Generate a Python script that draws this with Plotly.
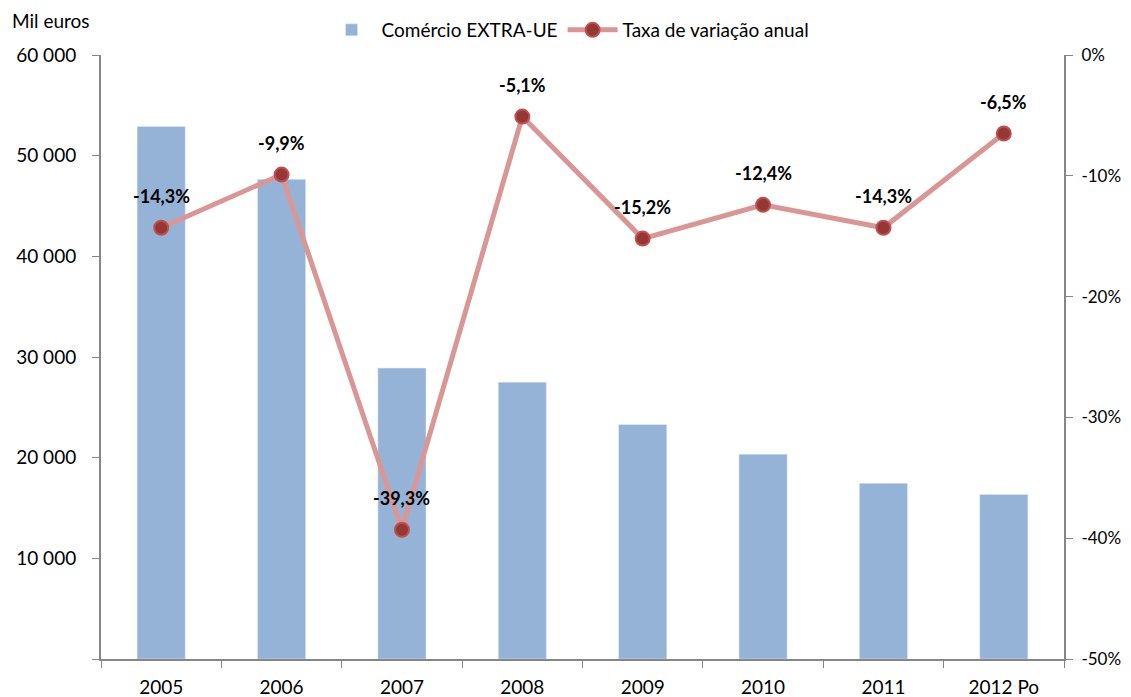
import plotly.graph_objects as go

years = ["2005", "2006", "2007", "2008", "2009", "2010", "2011", "2012 Po"]
comercio = [52900, 47650, 28900, 27500, 23300, 20350, 17450, 16350]
taxa = [-14.3, -9.9, -39.3, -5.1, -15.2, -12.4, -14.3, -6.5]

left_ticks = [0, 10000, 20000, 30000, 40000, 50000, 60000]
right_ticks = [0, -10, -20, -30, -40, -50]

FONT = "Lato, Open Sans, sans-serif"
AXIS_GREY = "#868686"


def fmt_thousands(v):
    return "" if v == 0 else f"{v:,}".replace(",", " ")


def fmt_pct(v, decimals=1):
    return f"{v:.{decimals}f}%".replace(".", ",")


fig = go.Figure()

fig.add_trace(go.Bar(
    x=years,
    y=comercio,
    name="Comércio EXTRA-UE",
    marker=dict(color="#95B3D7"),
    width=0.4,
))

fig.add_trace(go.Scatter(
    x=years,
    y=taxa,
    name="Taxa de variação anual",
    yaxis="y2",
    mode="lines+markers",
    line=dict(color="#D99694", width=5),
    marker=dict(size=14, color="#953735", line=dict(color="#C0504D", width=2)),
    cliponaxis=False,
))

# data labels sit well above each marker; category index used for x
for i, v in enumerate(taxa):
    fig.add_annotation(
        x=i, y=v, xref="x", yref="y2",
        text=f"<b>{fmt_pct(v)}</b>",
        showarrow=False, yshift=32,
        font=dict(size=18, color="black"),
    )

fig.add_annotation(
    text="Mil euros", xref="paper", yref="paper",
    x=-0.095, y=1.035, xanchor="left", yanchor="bottom",
    showarrow=False, font=dict(size=19),
)

# the page body adds an 8px offset, so the figure is sized to fit the window
fig.update_layout(
    width=1123,
    height=689,
    margin=dict(l=93, r=67, t=47, b=38, autoexpand=False),
    plot_bgcolor="white",
    paper_bgcolor="white",
    font=dict(family=FONT, size=19, color="black"),
    showlegend=True,
    legend=dict(
        orientation="h",
        x=0.485, xanchor="center",
        y=1.01, yanchor="bottom",
        font=dict(size=19),
        itemwidth=50,
    ),
    xaxis=dict(
        type="category",
        range=[-0.5, len(years) - 0.5],
        automargin=False,
        showline=True, linecolor=AXIS_GREY, linewidth=2,
        ticks="outside", tickson="boundaries", ticklen=7, tickcolor=AXIS_GREY,
        ticklabelstandoff=10,
        showgrid=False,
    ),
    yaxis=dict(
        range=[0, 60000],
        automargin=False,
        tickvals=left_ticks,
        ticktext=[fmt_thousands(v) for v in left_ticks],
        showline=True, linecolor=AXIS_GREY, linewidth=2,
        ticks="outside", ticklen=7, tickcolor=AXIS_GREY,
        ticklabelstandoff=12,
        showgrid=False, zeroline=False,
    ),
    yaxis2=dict(
        overlaying="y",
        side="right",
        automargin=False,
        range=[-50, 0],
        tickvals=right_ticks,
        ticktext=[fmt_pct(v, 0) for v in right_ticks],
        tickfont=dict(size=17),
        showline=True, linecolor=AXIS_GREY, linewidth=2,
        ticks="outside", ticklen=7, tickcolor=AXIS_GREY,
        ticklabelstandoff=5,
        showgrid=False, zeroline=False,
    ),
)

fig.write_html("out.html")
